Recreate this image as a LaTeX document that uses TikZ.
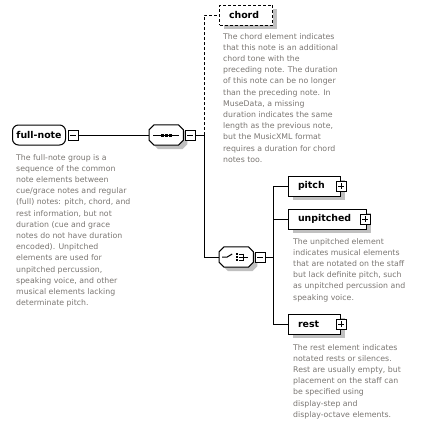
\documentclass[tikz,border=0pt]{standalone}
\usepackage{fontspec}
\setmainfont{DejaVu Sans}
\usepackage{xcolor}
\usepackage{tikz}
\usetikzlibrary{positioning,calc}
\definecolor{descgray}{RGB}{122,118,114}
\definecolor{shadegray}{RGB}{192,192,192}
\newcommand\octpath[1]{([xshift=5pt]#1.north west) -- ([xshift=-5pt]#1.north east)
  -- ([yshift=-5pt]#1.north east) -- ([yshift=5pt]#1.south east)
  -- ([xshift=-5pt]#1.south east) -- ([xshift=5pt]#1.south west)
  -- ([yshift=5pt]#1.south west) -- ([yshift=-5pt]#1.north west) -- cycle}
\tikzset{
  shadowed/.style={preaction={fill=shadegray, draw=none, transform canvas={shift={(4pt,-4pt)}}}},
  elem/.style={draw, line width=1pt, fill=white, minimum height=20pt, inner ysep=0pt,
               inner xsep=9.5pt, text width=#1, align=left,
               font={\fontsize{9.4}{11}\selectfont\bfseries}, shadowed},
  optelem/.style={elem=#1, dash pattern=on 3pt off 2pt},
  rootelem/.style={draw, line width=1pt, fill=white, rounded corners=6pt, minimum height=20pt,
               minimum width=53pt, inner sep=0pt, font={\fontsize{9.4}{11}\selectfont\bfseries}},
  compositor/.style={rectangle, minimum width=34pt, minimum height=20pt, inner sep=0pt},
  compline/.style={line width=1pt, draw=black, fill=white},
  compshade/.style={fill=shadegray, transform canvas={shift={(4pt,-4pt)}}},
  expminus/.style={draw, fill=white, line width=0.9pt, minimum size=10pt, inner sep=0pt,
               path picture={\draw[line width=0.9pt] ([xshift=2pt]path picture bounding box.west)
                             -- ([xshift=-2pt]path picture bounding box.east);}},
  expplus/.style={draw, fill=white, line width=0.9pt, minimum size=10pt, inner sep=0pt,
               path picture={\draw[line width=0.9pt] ([xshift=2pt]path picture bounding box.west)
                             -- ([xshift=-2pt]path picture bounding box.east);
                             \draw[line width=0.9pt] ([yshift=-2pt]path picture bounding box.north)
                             -- ([yshift=2pt]path picture bounding box.south);}},
  conn/.style={line width=1pt, black},
  optconn/.style={conn, dash pattern=on 3pt off 2pt},
  icon/.style={line width=1pt, black},
  desc/.style={anchor=north west, align=left, inner sep=0pt, text=descgray,
               font={\fontsize{7.8}{11.2}\selectfont}}
}

\begin{document}
\begin{tikzpicture}[x=1pt, y=-1pt]
\useasboundingbox (0,0) rectangle (422,423);
% root element
\node[rootelem, anchor=west] (fullnote) at (12,135) {full-note};
\node[expminus, right=2pt of fullnote] (fullnoteM) {};
\node[desc] (fullnoteD) at (16,154) {The full-note group is a\\sequence of the common\\note elements between\\cue/grace notes and regular\\(full) notes: pitch, chord, and\\rest information, but not\\duration (cue and grace\\notes do not have duration\\encoded). Unpitched\\elements are used for\\unpitched percussion,\\speaking voice, and other\\musical elements lacking\\determinate pitch.};
% sequence
\node[compositor, anchor=west] (seq) at (149,135) {};
\fill[compshade] \octpath{seq};
\draw[compline] \octpath{seq};
\node[expminus, right=1.5pt of seq] (seqM) {};
\draw[icon] ($(seq.center)+(-13,0)$) -- ($(seq.center)+(13,0)$);
\foreach \dx in {-4,0,4}
  \fill ($(seq.center)+(\dx-1.5,-1.5)$) rectangle +(3,3);
\coordinate (seqbus) at (204,135);
% chord
\node[optelem=34pt, anchor=west] (chord) at (219,15) {chord};
\node[desc] (chordD) at (223,33) {The chord element indicates\\that this note is an additional\\chord tone with the\\preceding note. The duration\\of this note can be no longer\\than the preceding note. In\\MuseData, a missing\\duration indicates the same\\length as the previous note,\\but the MusicXML format\\requires a duration for chord\\notes too.};
% choice
\node[compositor, anchor=west] (choice) at (219,257) {};
\fill[compshade] \octpath{choice};
\draw[compline] \octpath{choice};
\node[expminus, right=1.5pt of choice] (choiceM) {};
\draw[icon] ($(choice.center)+(-14,0)$) -- ($(choice.center)+(-9,0)$) -- ($(choice.center)+(-4,-3)$);
\foreach \dy in {-3,0,3} {
  \fill ($(choice.center)+(0,\dy-1)$) rectangle +(2,2);
  \draw[icon] ($(choice.center)+(3,\dy)$) -- ($(choice.center)+(7,\dy)$);
}
\draw[icon] ($(choice.center)+(7,-3.5)$) -- ($(choice.center)+(7,3.5)$);
\draw[icon] ($(choice.center)+(7,0)$) -- ($(choice.center)+(12,0)$);
\coordinate (chbus) at (273,257);
% children of choice
\node[elem=33pt, anchor=west] (pitch) at (288,186) {pitch};
\node[expplus] (pitchP) at (pitch.east) {};
\node[elem=59pt, anchor=west] (unpitched) at (288,219) {unpitched};
\node[expplus] (unpitchedP) at ([xshift=-2pt]unpitched.east) {};
\node[desc] (unpitchedD) at (293,238) {The unpitched element\\indicates musical elements\\that are notated on the staff\\but lack definite pitch, such\\as unpitched percussion and\\speaking voice.};
\node[elem=33pt, anchor=west] (rest) at (288,324) {rest};
\node[expplus] (restP) at (rest.east) {};
\node[desc] (restD) at (293,344) {The rest element indicates\\notated rests or silences.\\Rest are usually empty, but\\placement on the staff can\\be specified using\\display-step and\\display-octave elements.};
% connectors
\draw[conn] (fullnoteM) -- (seq);
\draw[conn] (seqM) -- (seqbus);
\draw[optconn] (seqbus) |- (chord.west);
\draw[conn] (seqbus) |- (choice.west);
\draw[conn] (choiceM) -- (chbus);
\draw[conn] (chbus) |- (pitch.west);
\draw[conn] (chbus) |- (unpitched.west);
\draw[conn] (chbus) |- (rest.west);
\end{tikzpicture}
\end{document}
